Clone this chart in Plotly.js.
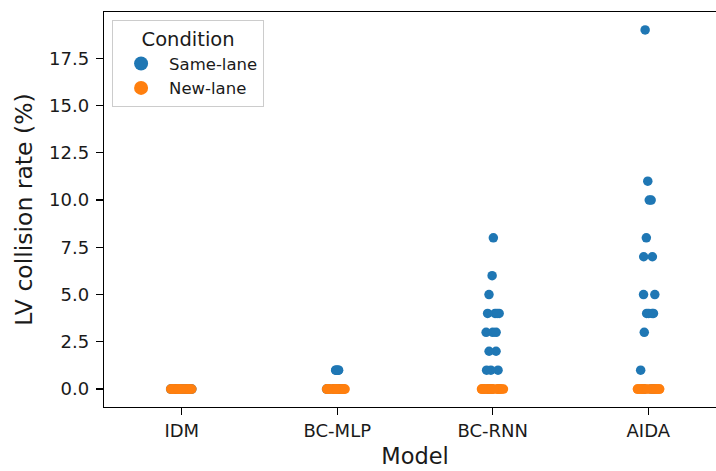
<!DOCTYPE html>
<html>
<head>
<meta charset="utf-8">
<script src="https://cdn.plot.ly/plotly-3.0.1.min.js"></script>
<style>
html, body { margin: 0; padding: 0; overflow: hidden; background: #fff; width: 716px; height: 471px; }
#chart { width: 728px; height: 471px; }
</style>
</head>
<body>
<div id="chart"></div>
<script>
// Categories (models) and conditions
const models = ["IDM", "BC-MLP", "BC-RNN", "AIDA"];
const conditions = ["Same-lane", "New-lane"];
const colors = ["#1f77b4", "#ff7f0e"];

// LV collision rate (%) per run
const idmSame    = [0,0,0,0,0,0,0,0,0,0,0,0,0,0,0,0,0,0,0,0];
const idmNew     = [0,0,0,0,0,0,0,0,0,0,0,0,0,0,0,0,0,0,0,0];
const bcmlpSame  = [1,1,1,1,1,0,0,0,0,0,0,0,0,0,0,0,0,0,0,0];
const bcmlpNew   = [0,0,0,0,0,0,0,0,0,0,0,0,0,0,0,0,0,0,0,0];
const bcrnnSame  = [8,6,5,4,4,4,4,3,3,3,2,2,1,1,1,0,0,0,0,0];
const bcrnnNew   = [0,0,0,0,0,0,0,0,0,0,0,0,0,0,0,0,0,0,0,0];
const aidaSame   = [19,11,10,10,8,7,7,5,5,4,4,4,4,3,1,0,0,0,0,0];
const aidaNew    = [0,0,0,0,0,0,0,0,0,0,0,0,0,0,0,0,0,0,0,0];

const yTicks = [0, 2.5, 5, 7.5, 10, 12.5, 15, 17.5];

const seriesByCondition = [
  [idmSame, bcmlpSame, bcrnnSame, aidaSame],
  [idmNew, bcmlpNew, bcrnnNew, aidaNew]
];

const traces = [];
conditions.forEach((cond, ci) => {
  const xs = [], ys = [];
  seriesByCondition[ci].forEach((vals, mi) => {
    vals.forEach(v => { xs.push(models[mi]); ys.push(v); });
  });
  traces.push({
    type: "box",
    name: cond,
    x: xs, y: ys,
    boxpoints: "all",
    jitter: 0.3,
    pointpos: 0,
    fillcolor: "rgba(0,0,0,0)",
    line: { width: 0, color: "rgba(0,0,0,0)" },
    marker: { color: colors[ci], size: 9.5, opacity: 1, line: { width: 0 } },
    showlegend: false,
    hoveron: "points"
  });
});
// legend entries
conditions.forEach((cond, ci) => {
  traces.push({
    type: "scatter", mode: "markers", name: cond,
    x: [null], y: [null],
    marker: { color: colors[ci], size: 14 },
    showlegend: true
  });
});

const fontFam = "DejaVu Sans, Arial, sans-serif";
const layout = {
  width: 728, height: 471,
  margin: { l: 104, r: 2, t: 12, b: 64 },
  paper_bgcolor: "#fff", plot_bgcolor: "#fff",
  font: { family: fontFam, color: "#1a1a1a" },
  showlegend: true,
  boxmode: "overlay",
  xaxis: {
    type: "category",
    categoryorder: "array", categoryarray: models,
    range: [-0.5, 3.5],
    showline: true, mirror: true, linecolor: "#000", linewidth: 1.2,
    ticks: "outside", ticklen: 7, tickcolor: "#000", tickwidth: 1.2,
    showgrid: false, zeroline: false,
    tickfont: { size: 18, family: fontFam, color: "#1a1a1a" },
    title: { text: "Model", font: { size: 22.5, family: fontFam, color: "#1a1a1a" }, standoff: 8 }
  },
  yaxis: {
    range: [-0.95, 19.95],
    tickmode: "array", tickvals: yTicks,
    ticktext: yTicks.map(v => v.toFixed(1)),
    showline: true, mirror: true, linecolor: "#000", linewidth: 1.2,
    ticks: "outside", ticklen: 7, tickcolor: "#000", tickwidth: 1.2,
    ticklabelstandoff: 3,
    showgrid: false, zeroline: false,
    tickfont: { size: 18, family: fontFam, color: "#1a1a1a" },
    title: { text: "LV collision rate (%)", font: { size: 23.5, family: fontFam, color: "#1a1a1a" }, standoff: 9 }
  },
  legend: {
    x: 0.013, y: 0.98, xanchor: "left", yanchor: "top",
    bgcolor: "rgba(255,255,255,0.8)", bordercolor: "#cccccc", borderwidth: 1,
    font: { size: 16.5, family: fontFam, color: "#1a1a1a" },
    title: { text: "Condition", side: "top center", font: { size: 19.5, family: fontFam, color: "#1a1a1a" } },
    itemwidth: 46,
    traceorder: "normal"
  }
};

Plotly.newPlot("chart", traces, layout, { displayModeBar: false, staticPlot: true });
</script>
</body>
</html>
